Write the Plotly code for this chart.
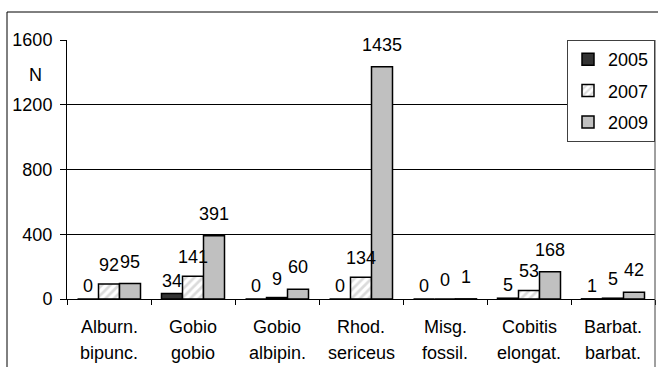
import plotly.graph_objects as go

# ---- data ----
cat_line1 = ["Alburn.", "Gobio", "Gobio", "Rhod.", "Misg.", "Cobitis", "Barbat."]
cat_line2 = ["bipunc.", "gobio", "albipin.", "sericeus", "fossil.", "elongat.", "barbat."]
years = ["2005", "2007", "2009"]
values_2005 = [0, 34, 0, 0, 0, 5, 1]
values_2007 = [92, 141, 9, 134, 0, 53, 5]
values_2009 = [95, 391, 60, 1435, 1, 168, 42]
y_ticks = [0, 400, 800, 1200, 1600]

categories = [a + " " + b for a, b in zip(cat_line1, cat_line2)]
series = [values_2005, values_2007, values_2009]

FONT = "Liberation Sans, Arial, sans-serif"
FS = 18

W, H = 658, 367
ML, MR, MT, MB = 67, 3, 40, 68
plot_w = W - ML - MR
plot_h = H - MT - MB
BARGAP = 0.25

styles = [
    dict(color="#333333"),
    dict(color="white", pattern=dict(shape="/", fgcolor="#b8b8b8", bgcolor="white", size=6, solidity=0.45)),
    dict(color="#c0c0c0"),
]

fig = go.Figure()
for i, (yr, vals) in enumerate(zip(years, series)):
    st = styles[i]
    marker = dict(color=st["color"], line=dict(color="black", width=1.5))
    if "pattern" in st:
        marker["pattern"] = st["pattern"]
    fig.add_trace(go.Bar(
        x=categories, y=vals, name=yr, marker=marker,
        legendgroup=yr, hoverinfo="skip",
    ))

# value labels
bar_px = plot_w / len(categories) * (1 - BARGAP) / len(years)
label_shift = [13, 19, 22]
annotations = []
for i, vals in enumerate(series):
    for c, v in zip(categories, vals):
        annotations.append(dict(
            x=c, y=v, xref="x", yref="y", text=str(v), showarrow=False,
            xshift=(i - 1) * bar_px, yshift=label_shift[i], yanchor="middle",
            font=dict(family=FONT, size=FS, color="black"),
        ))
# category labels (two lines)
for c, l1, l2 in zip(categories, cat_line1, cat_line2):
    annotations.append(dict(x=c, y=0, xref="x", yref="paper", text=l1, showarrow=False,
                            yshift=-28, yanchor="middle",
                            font=dict(family=FONT, size=FS, color="black")))
    annotations.append(dict(x=c, y=0, xref="x", yref="paper", text=l2, showarrow=False,
                            yshift=-54, yanchor="middle",
                            font=dict(family=FONT, size=FS, color="black")))
# axis title N
annotations.append(dict(x=(35 - ML) / plot_w, y=(H - MB - 75) / plot_h, xref="paper", yref="paper",
                        text="N", showarrow=False, xanchor="center", yanchor="middle",
                        font=dict(family=FONT, size=FS, color="black")))

shapes = [
    # outer chart frame (clipped at right and bottom)
    dict(type="rect", xref="paper", yref="paper",
         x0=(7 - ML) / plot_w, x1=(W + 5 - ML) / plot_w,
         y0=(H - MB - (H + 5)) / plot_h, y1=(H - MB - 12) / plot_h,
         line=dict(color="black", width=1), fillcolor="rgba(0,0,0,0)", layer="below"),
    # right vertical line
    dict(type="line", xref="paper", yref="paper", x0=1, x1=1,
         y0=(H - MB - (H + 5)) / plot_h, y1=1, line=dict(color="#404040", width=1)),
]

fig.update_layout(
    width=W, height=H,
    margin=dict(l=ML, r=MR, t=MT, b=MB),
    paper_bgcolor="white", plot_bgcolor="white",
    barmode="group", bargap=BARGAP, bargroupgap=0,
    font=dict(family=FONT, size=FS, color="black"),
    showlegend=True,
    legend=dict(x=1, xanchor="right", y=1, yanchor="top",
                bgcolor="white", bordercolor="#404040", borderwidth=1,
                font=dict(family=FONT, size=FS, color="black"),
                tracegroupgap=5, traceorder="grouped", itemwidth=30),
    xaxis=dict(showticklabels=False, showline=True, linecolor="black", linewidth=1,
               ticks="outside", tickson="boundaries", ticklen=5, tickcolor="black",
               showgrid=False, fixedrange=True),
    yaxis=dict(range=[0, 1600], tickvals=y_ticks, ticktext=[str(t) for t in y_ticks],
               showline=True, linecolor="black", linewidth=1,
               ticks="outside", ticklen=6, tickcolor="black", ticklabelstandoff=4,
               showgrid=True, gridcolor="black", gridwidth=1, zeroline=False,
               tickfont=dict(family=FONT, size=FS, color="black"), fixedrange=True),
    annotations=annotations,
    shapes=shapes,
)

fig.write_html(
    "out.html",
    config={"displayModeBar": False},
    post_script="document.body.style.margin='0';document.body.style.overflow='hidden';",
)
